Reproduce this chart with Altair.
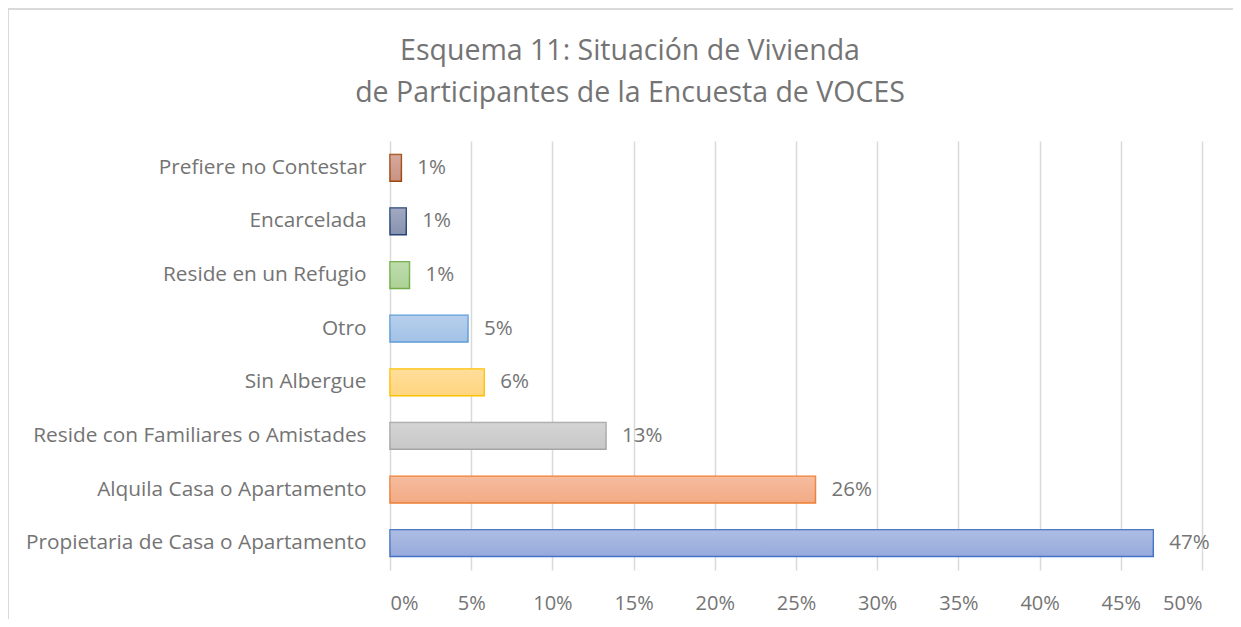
import altair as alt
import pandas as pd

categories = [
    "Prefiere no Contestar",
    "Encarcelada",
    "Reside en un Refugio",
    "Otro",
    "Sin Albergue",
    "Reside con Familiares o Amistades",
    "Alquila Casa o Apartamento",
    "Propietaria de Casa o Apartamento",
]
values = [0.7, 1.0, 1.2, 4.8, 5.8, 13.3, 26.2, 47.0]
labels = ["1%", "1%", "1%", "5%", "6%", "13%", "26%", "47%"]
fills = ["#C99283", "#8792AF", "#ACD296", "#A2C2E7", "#FFD57F", "#C8C8C8", "#F3AA85", "#97AADC"]
strokes = ["#9E480E", "#264478", "#70AD47", "#5B9BD5", "#FFC000", "#A5A5A5", "#ED7D31", "#4472C4"]
x_ticks = [0, 5, 10, 15, 20, 25, 30, 35, 40, 45, 50]

df = pd.DataFrame({"cat": categories, "val": values, "lab": labels})

FONT = "Open Sans"
GREY = "#747474"

y_enc = alt.Y("cat:N", sort=categories, title=None,
              scale=alt.Scale(paddingInner=0.5, paddingOuter=0.25),
              axis=alt.Axis(ticks=False, domain=False, labelPadding=24,
                            labelFontSize=20.8, labelColor=GREY, labelFont=FONT,
                            labelLimit=500))

x_enc = alt.X("val:Q", title=None,
              scale=alt.Scale(domain=[0, 50], nice=False),
              axis=alt.Axis(values=x_ticks, labelExpr="datum.value + '%'",
                            ticks=False, domain=False, grid=True,
                            gridColor="#D9D9D9", gridWidth=1.5,
                            labelFontSize=20, labelColor=GREY, labelFont=FONT,
                            labelPadding=23))

bars = alt.Chart(df).mark_bar(strokeWidth=1.5).encode(
    x=x_enc,
    y=y_enc,
    fill=alt.Fill("cat:N", scale=alt.Scale(domain=categories, range=fills), legend=None),
    stroke=alt.Stroke("cat:N", scale=alt.Scale(domain=categories, range=strokes), legend=None),
)

shine = alt.Chart(df).mark_bar(
    fill=alt.Gradient(
        gradient="linear",
        stops=[alt.GradientStop(color="rgba(255,255,255,0.22)", offset=0),
               alt.GradientStop(color="rgba(255,255,255,0)", offset=1)],
        x1=0, x2=0, y1=0, y2=1,
    ),
    strokeWidth=0,
).encode(x="val:Q", y=alt.Y("cat:N", sort=categories))

text = alt.Chart(df).mark_text(align="left", baseline="middle", dx=16,
                               fontSize=20.5, color=GREY, font=FONT).encode(
    x="val:Q",
    y=alt.Y("cat:N", sort=categories),
    text="lab:N",
)

border_left = alt.Chart(df).mark_rule(color="#D9D9D9", strokeWidth=1.5).encode(
    x=alt.value(-382), y=alt.value(-132), y2=alt.value(478))
border_top = alt.Chart(df).mark_rule(color="#D9D9D9", strokeWidth=1.5).encode(
    x=alt.value(-382), x2=alt.value(843), y=alt.value(-132))

chart = alt.layer(border_left, border_top, bars, shine, text).properties(
    width=812,
    height=429,
    title=alt.TitleParams(
        text=["Esquema 11: Situación de Vivienda",
              "de Participantes de la Encuesta de VOCES"],
        fontSize=28.5, font=FONT, color=GREY, fontWeight="normal",
        anchor="middle", dx=-166, offset=0, dy=99, lineHeight=42,
    ),
    padding={"left": 382, "top": 133, "right": 31, "bottom": 49},
    autosize=alt.AutoSizeParams(type="none"),
).configure_view(stroke=None)

chart.save("out.html", embed_options={"renderer": "svg", "actions": False})
